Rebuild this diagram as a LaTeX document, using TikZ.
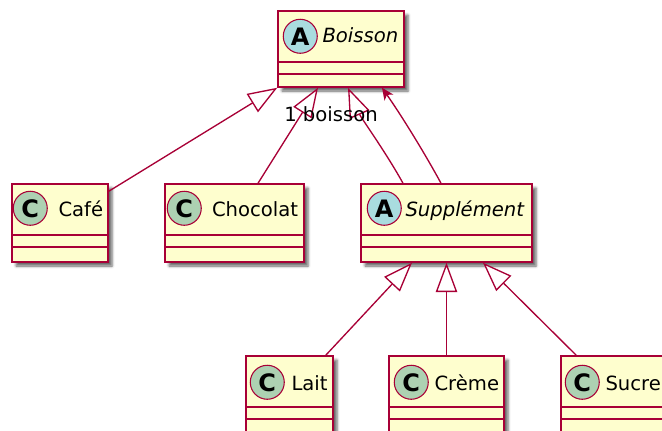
\documentclass[tikz,border=0pt]{standalone}
\usepackage{fontspec}
\setmainfont{DejaVu Sans}
\usetikzlibrary{arrows.meta,calc,shadows.blur}
\definecolor{umlred}{HTML}{A80036}
\definecolor{boxfill}{HTML}{FEFECE}
\definecolor{spotAfill}{HTML}{A9DCDF}
\definecolor{spotCfill}{HTML}{ADD1B2}
\begin{document}
\begin{tikzpicture}[x=0.75pt,y=-0.75pt,
  classbox/.style={draw=umlred, fill=boxfill, line width=1.1pt, rectangle, inner sep=0pt,
    minimum height=58.5pt,
    blur shadow={shadow xshift=3pt, shadow yshift=-3pt, shadow blur radius=2pt, shadow opacity=60}},
  spot/.style={circle, draw=umlred, line width=0.8pt, minimum size=25.5pt, inner sep=0pt,
    font=\fontsize{18}{18}\bfseries\selectfont},
  spotA/.style={spot, fill=spotAfill},
  spotC/.style={spot, fill=spotCfill},
  cname/.style={anchor=base west, inner sep=0pt, font=\fontsize{14.7}{17}\selectfont},
  sepline/.style={draw=umlred, line width=1.1pt},
  inherit/.style={draw=umlred, line width=1pt, -{Triangle[length=22pt,width=16pt,fill=white,line width=1pt]}},
  assoc/.style={draw=umlred, line width=1pt, -{Stealth[length=9pt,width=8pt,inset=2.5pt]}},
  lbl/.style={inner sep=0pt, font=\fontsize{14.7}{17}\selectfont}
]
\useasboundingbox (0,0) rectangle (662,430);
\clip (0,0) rectangle (662,430);

% class boxes
\node[classbox, minimum width=94.5pt, minimum height=57pt] (boisson) at (341,49) {};
\node[classbox, minimum width=72pt] (cafe) at (60,223) {};
\node[classbox, minimum width=104.25pt] (chocolat) at (234.5,223) {};
\node[classbox, minimum width=128.25pt] (supp) at (446.5,223) {};
\node[classbox, minimum width=65.25pt] (lait) at (289.5,395) {};
\node[classbox, minimum width=86.25pt] (creme) at (446.5,395) {};
\node[classbox, minimum width=80.25pt] (sucre) at (614.5,395) {};

% separators
\foreach \c in {boisson,cafe,chocolat,supp,lait,creme,sucre}{
  \draw[sepline] ($(\c.north west)+(0,51.5)$) -- ($(\c.north east)+(0,51.5)$);
  \draw[sepline] ($(\c.north west)+(0,63.5)$) -- ($(\c.north east)+(0,63.5)$);
}

% spots and names
\node[spotA] (boisson-spot) at ($(boisson.north west)+(23,26)$) {A};
\node[cname] (boisson-name) at ($(boisson.north west)+(45,32)$) {\itshape Boisson};

\node[spotC] (cafe-spot) at ($(cafe.north west)+(19,25)$) {C};
\node[cname] (cafe-name) at ($(cafe.north west)+(47,33)$) {Café};

\node[spotC] (chocolat-spot) at ($(chocolat.north west)+(20,25)$) {C};
\node[cname] (chocolat-name) at ($(chocolat.north west)+(47.5,33)$) {Chocolat};

\node[spotA] (supp-spot) at ($(supp.north west)+(24,25)$) {A};
\node[cname] (supp-name) at ($(supp.north west)+(45,33)$) {\itshape Supplément};

\node[spotC] (lait-spot) at ($(lait.north west)+(22,27)$) {C};
\node[cname] (lait-name) at ($(lait.north west)+(46,35)$) {Lait};

\node[spotC] (creme-spot) at ($(creme.north west)+(23,27)$) {C};
\node[cname] (creme-name) at ($(creme.north west)+(46,35)$) {Crème};

\node[spotC] (sucre-spot) at ($(sucre.north west)+(22,27)$) {C};
\node[cname] (sucre-name) at ($(sucre.north west)+(45,35)$) {Sucre};

% inheritance edges
\draw[inherit] ($(cafe.north east)+(0,8)$) -- (boisson.south west);
\draw[inherit] ($(chocolat.north)+(23.5,0)$) -- ($(boisson.south)+(-23,0)$);
\draw[inherit] ($(supp.north)+(-43.5,0)$) .. controls ($(supp.north)+(-60,-30)$) and ($(boisson.south)+(20,30)$) .. ($(boisson.south)+(7,0)$);

% association
\draw[assoc] ($(supp.north)+(-5.5,0)$) .. controls ($(supp.north)+(-19.5,-26)$) and ($(boisson.south)+(62,30)$) .. ($(boisson.south)+(41,0)$);
\node[lbl] (assoc-label) at (331,114) {1 boisson};

% subclasses of Supplement
\draw[inherit] ($(lait.north east)+(-8,0)$) -- ($(supp.south)+(-34.5,0)$);
\draw[inherit] (creme.north) -- (supp.south);
\draw[inherit] ($(sucre.north west)+(16,0)$) -- ($(supp.south)+(36.5,0)$);
\end{tikzpicture}
\end{document}
